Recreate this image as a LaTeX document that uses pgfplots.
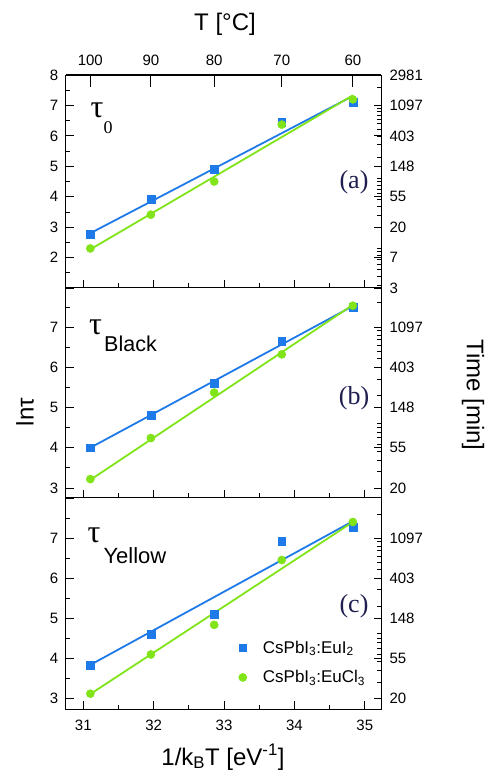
\documentclass[border=0pt]{standalone}
\usepackage{fontspec}
\setmainfont{Liberation Sans}
\newfontfamily\serif{Liberation Serif}
\usepackage{pgfplots}
\pgfplotsset{compat=1.18}

\definecolor{cblue}{RGB}{30,122,232}
\definecolor{cgreen}{RGB}{128,228,24}
\definecolor{lblnavy}{RGB}{30,30,80}

\newcommand{\ticksize}{\fontsize{15}{16}\selectfont}
\newcommand{\labsize}{\fontsize{24}{26}\selectfont}

\pgfplotsset{
  common/.style={
    scale only axis, width=315.3pt, xmin=30.75, xmax=35.23,
    anchor=south west,
    tick align=inside,
    major tick length=8pt, minor tick length=4.5pt,
    every tick/.style={black, line width=0.8pt},
    axis line style={line width=1pt},
    tick label style={font=\ticksize},
    /pgf/number format/assume math mode=true,
    clip=false,
  },
  panel/.style={
    common,
    xtick={31,...,35}, minor x tick num=1,
    xtick pos=left, ytick pos=left, minor y tick num=1,
    yticklabel style={xshift=-4pt},
  },
  rightlog/.style={
    common,
    hide x axis, axis y line*=right,
    major tick length=7pt,
    yticklabel style={xshift=5pt},
    extra y ticks={2,3,4,5,6,7,8,9,10,20,30,40,50,60,70,80,90,100,
                   200,300,400,500,600,700,800,900,1000,2000,3000},
    extra y tick labels={},
    extra y tick style={major tick length=4pt},
  },
  fit/.style={no marks, line width=1.8pt, forget plot},
  blu/.style={only marks, mark=square*, mark size=3.9pt, color=cblue},
  grn/.style={only marks, mark=*, mark size=4.1pt, color=cgreen},
}

% 1/(k_B T) for T = 100, 90, 80, 70, 60 degC
\pgfplotstableread{
x      euI2  euCl3
31.10  2.78  2.30
31.96  3.91  3.41
32.86  4.91  4.50
33.82  6.44  6.37
34.83  7.10  7.20
}\tauzero
\pgfplotstableread{
x      euI2  euCl3
31.10  4.00  3.22
31.96  4.81  4.24
32.86  5.61  5.37
33.82  6.65  6.32
34.83  7.50  7.53
}\taublack
\pgfplotstableread{
x      euI2  euCl3
31.10  3.83  3.11
31.96  4.60  4.09
32.86  5.10  4.83
33.82  6.93  6.45
34.83  7.28  7.40
}\tauyellow

\begin{document}
\begin{tikzpicture}[x=1pt,y=1pt]
\useasboundingbox (0,0) rectangle (489,774);

% ---------------- panel (a) ----------------
\begin{axis}[panel, at={(65.7pt,486pt)}, height=213pt,
  ymin=1, ymax=8, ytick={1,...,8}, yticklabels={,2,3,4,5,6,7,8},
  xticklabels={}]
  \addplot[fit, cblue]  coordinates {(31.10,2.80) (34.83,7.31)};
  \addplot[fit, cgreen] coordinates {(31.10,2.27) (34.83,7.33)};
  \addplot[blu] table[x=x,y=euI2] {\tauzero};
  \addplot[grn] table[x=x,y=euCl3] {\tauzero};
\end{axis}
\begin{axis}[common, at={(65.7pt,486pt)}, height=213pt,
  hide y axis, axis x line*=top, ymin=1, ymax=8,
  xtick={31.10,31.96,32.86,33.82,34.83},
  xticklabels={100,90,80,70,60},
  xticklabel style={yshift=6pt},
  major tick length=12pt]
\end{axis}
\begin{axis}[ymode=log, rightlog, at={(65.7pt,486pt)}, height=213pt,
  ymin=2.71828, ymax=2980.96,
  ytick={2.71828,7.38906,20.0855,54.5982,148.413,403.429,1096.63,2980.96},
  yticklabels={3,7,20,55,148,403,1097,2981}]
\end{axis}

% ---------------- panel (b) ----------------
\begin{axis}[panel, at={(65.7pt,276pt)}, height=210pt,
  ymin=2.75, ymax=7.97, ytick={2,...,8}, yticklabels={,3,4,5,6,7,},
  xticklabels={}]
  \addplot[fit, cblue]  coordinates {(31.10,4.00) (34.83,7.52)};
  \addplot[fit, cgreen] coordinates {(31.10,3.20) (34.83,7.55)};
  \addplot[blu] table[x=x,y=euI2] {\taublack};
  \addplot[grn] table[x=x,y=euCl3] {\taublack};
\end{axis}
\begin{axis}[ymode=log, rightlog, at={(65.7pt,276pt)}, height=210pt,
  ymin=15.64, ymax=2892,
  ytick={20.0855,54.5982,148.413,403.429,1096.63},
  yticklabels={20,55,148,403,1097}]
\end{axis}

% ---------------- panel (c) ----------------
\begin{axis}[panel, at={(65.7pt,64.7pt)}, height=211.3pt,
  ymin=2.72, ymax=8.0, ytick={2,...,8}, yticklabels={,3,4,5,6,7,},
  xticklabel style={yshift=-7pt},
  legend style={at={(rel axis cs:0.548,0.335)}, anchor=north west,
    draw=none, fill=none, inner sep=0pt, column sep=14pt, row sep=12pt,
    font=\fontsize{17}{19}\selectfont},
  legend image code/.code={\draw plot coordinates {(0pt,0pt)};},
  legend cell align=left]
  \addplot[fit, cblue]  coordinates {(31.10,3.83) (34.83,7.42)};
  \addplot[fit, cgreen] coordinates {(31.10,3.10) (34.83,7.40)};
  \addplot[blu] table[x=x,y=euI2] {\tauyellow};
  \addplot[grn] table[x=x,y=euCl3] {\tauyellow};
  \legend{CsPbI\textsubscript{3}:EuI\textsubscript{2},
          CsPbI\textsubscript{3}:EuCl\textsubscript{3}}
\end{axis}
\begin{axis}[ymode=log, rightlog, at={(65.7pt,64.7pt)}, height=211.3pt,
  ymin=15.18, ymax=2980,
  ytick={20.0855,54.5982,148.413,403.429,1096.63},
  yticklabels={20,55,148,403,1097}]
\end{axis}

% ---------------- labels ----------------
\node[anchor=base, font=\labsize] at (225,743) {T [°C]};
\node[anchor=base, font=\labsize] at (223,9)
  {1/k\textsubscript{B}T [eV\textsuperscript{-1}]};
\node[rotate=90, font=\labsize] at (25,362) {lnτ};
\node[rotate=-90, font=\labsize] at (473,379) {Time [min]};

\node[anchor=base west, inner sep=0pt, font=\serif\fontsize{32}{32}\selectfont] at (90.5,656) {τ};
\node[anchor=base west, inner sep=0pt, font=\serif\fontsize{18}{18}\selectfont] at (103.3,640.7) {0};
\node[anchor=base west, inner sep=0pt, font=\serif\fontsize{32}{32}\selectfont] at (89,439) {τ};
\node[anchor=base west, inner sep=0pt, font=\fontsize{21.5}{22}\selectfont] at (104,422.3) {Black};
\node[anchor=base west, inner sep=0pt, font=\serif\fontsize{32}{32}\selectfont] at (87.5,231) {τ};
\node[anchor=base west, inner sep=0pt, font=\fontsize{22}{22}\selectfont] at (103.3,210.7) {Yellow};

\node[text=lblnavy, font=\serif\fontsize{26}{26}\selectfont] at (354,592) {(a)};
\node[text=lblnavy, font=\serif\fontsize{26}{26}\selectfont] at (354,376) {(b)};
\node[text=lblnavy, font=\serif\fontsize{26}{26}\selectfont] at (354,168) {(c)};
\end{tikzpicture}
\end{document}
